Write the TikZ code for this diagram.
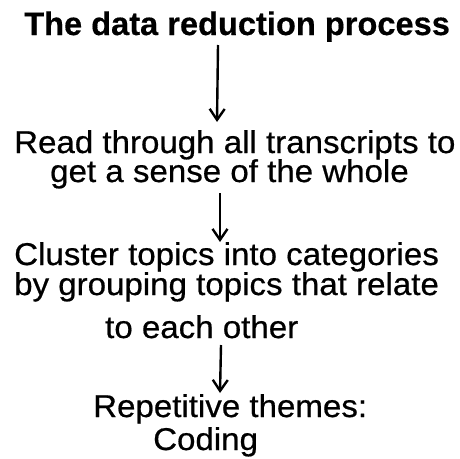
\documentclass[tikz,border=0pt]{standalone}
\usepackage{fontspec}
\setmainfont{Liberation Sans}[FakeStretch=1.05,FakeBold=0.6]
\newfontfamily\titlefont{Liberation Sans}[FakeBold=0.4]
\usetikzlibrary{arrows.meta}
\tikzset{
  txt/.style={inner sep=0pt, anchor=base west, font=\fontsize{31.5}{31.5}\selectfont},
  ttl/.style={inner sep=0pt, anchor=base west, font=\titlefont\bfseries\fontsize{32.6}{33}\selectfont},
  flow/.style={line width=2.4pt, -{Straight Barb[length=11pt,width=15pt,line width=2.4pt]}}
}
\begin{document}
\begin{tikzpicture}[x=1pt,y=1pt]
\fill[white] (0,0) rectangle (460,-458);
\useasboundingbox (0,0) rectangle (460,-458);
\node[ttl] (title) at (24,-35) {The data reduction process};
\node[txt] (a1) at (14,-153) {Read through all transcripts to};
\node[txt] (a2) at (50,-182) {get a sense of the whole};
\node[txt] (b1) at (14,-265) {Cluster topics into categories};
\node[txt] (b2) at (14,-295) {by grouping topics that relate};
\node[txt] (b3) at (105,-338) {to each other};
\node[txt] (c1) at (93,-417) {Repetitive themes:};
\node[txt] (c2) at (153,-450) {Coding};
\coordinate (s1) at (218,-45);
\coordinate (e1) at (217,-122);
\coordinate (s2) at (220,-193);
\coordinate (e2) at (220,-242);
\coordinate (s3) at (221,-345);
\coordinate (e3) at (220,-393);
\draw[flow] (s1) -- (e1);
\draw[flow] (s2) -- (e2);
\draw[flow] (s3) -- (e3);
\end{tikzpicture}
\end{document}
